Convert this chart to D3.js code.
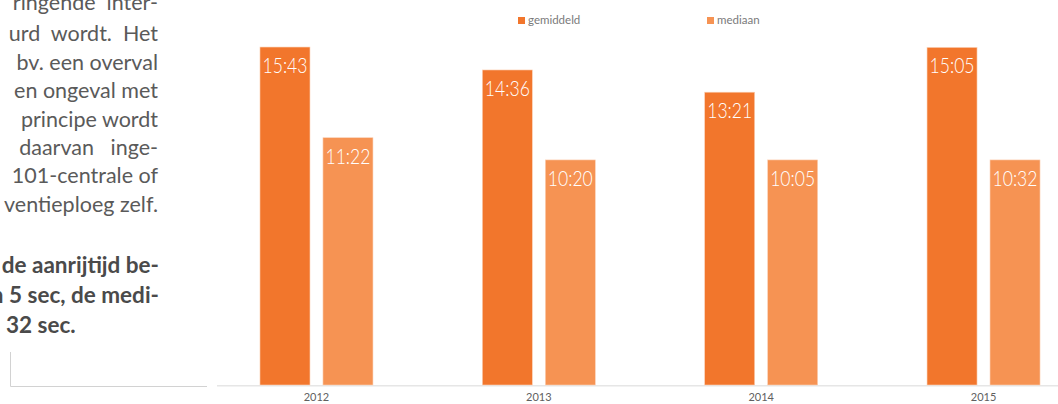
<!DOCTYPE html>
<html>
<head>
<meta charset="utf-8">
<script src="https://cdn.jsdelivr.net/npm/d3@7/dist/d3.min.js"></script>
<style>
  html, body { margin: 0; padding: 0; background: #ffffff; }
  svg { display: block; }
</style>
</head>
<body>
<svg id="chart" width="1058" height="404"></svg>
<script>
// ---- data ----
const years = ["2012", "2013", "2014", "2015"];
const seriesNames = ["gemiddeld", "mediaan"];
// bar heights in seconds
const gemiddeldSeconds = [943, 879, 817, 942];
const mediaanSeconds = [690, 628, 628, 628];
// labels printed on the bars
const gemiddeldLabels = ["15:43", "14:36", "13:21", "15:05"];
const mediaanLabels = ["11:22", "10:20", "10:05", "10:32"];
// side text of the document page
const bodyLines = ["ringende  inter-", "urd  wordt.  Het", "bv. een overval", "en ongeval met", "principe wordt", "daarvan   inge-", "101-centrale of", "ventieploeg zelf."];
const boldLines = ["de aanrijtijd be-", "n 5 sec, de medi-", "32 sec."];

const colors = { gemiddeld: "#f2762c", mediaan: "#f69353" };

const svg = d3.select("#chart");

// ---- side text ----
const bodyBaselines = [10, 41, 70, 98, 127, 155, 183, 212];
svg.append("g").selectAll("text").data(bodyLines).join("text")
  .attr("x", 158)
  .attr("y", (d, i) => bodyBaselines[i])
  .attr("text-anchor", "end")
  .attr("xml:space", "preserve")
  .style("white-space", "pre")
  .attr("font-family", "Lato, 'Open Sans', sans-serif")
  .attr("font-size", 21.5)
  .attr("fill", "#5a5a5a")
  .text(d => d);

const boldBaselines = [273, 303, 333];
svg.append("g").selectAll("text").data(boldLines).join("text")
  .attr("x", (d, i) => i === 2 ? 6 : 159)
  .attr("y", (d, i) => boldBaselines[i])
  .attr("text-anchor", (d, i) => i === 2 ? "start" : "end")
  .attr("font-family", "Lato, 'Open Sans', sans-serif")
  .attr("font-weight", "bold")
  .attr("font-size", 22.5)
  .attr("fill", "#4a4a4a")
  .text(d => d);

// left frame corner
svg.append("path")
  .attr("d", "M10.5,352 V386.5 H207")
  .attr("fill", "none")
  .attr("stroke", "#d2d2d2")
  .attr("stroke-width", 1);

// ---- chart ----
const baseY = 385;
const x0 = d3.scaleBand().domain(years).range([205.3, 1094.7]).padding(0);
const x1 = d3.scaleBand().domain(seriesNames).range([-56.5, 56.5]).paddingInner(0.206).paddingOuter(0);
const y = d3.scaleLinear().domain([0, 1000]).range([baseY, baseY - 358.4]);

const rows = years.map((yr, i) => ({
  year: yr,
  vals: [
    { s: "gemiddeld", v: gemiddeldSeconds[i], label: gemiddeldLabels[i] },
    { s: "mediaan", v: mediaanSeconds[i], label: mediaanLabels[i] }
  ]
}));

// axis baseline
svg.append("line")
  .attr("x1", 217).attr("x2", 1058)
  .attr("y1", baseY + 0.75).attr("y2", baseY + 0.75)
  .attr("stroke", "#e6e6e6").attr("stroke-width", 1.6);

const groups = svg.append("g").selectAll("g").data(rows).join("g")
  .attr("transform", d => `translate(${x0(d.year) + x0.bandwidth() / 2},0)`);

groups.selectAll("rect").data(d => d.vals).join("rect")
  .attr("x", d => x1(d.s))
  .attr("y", d => y(d.v))
  .attr("width", x1.bandwidth())
  .attr("height", d => baseY - y(d.v))
  .attr("fill", d => colors[d.s])
  .attr("stroke", "#fbd3b9")
  .attr("stroke-width", 0.6);

groups.selectAll("text.val").data(d => d.vals).join("text")
  .attr("class", "val")
  .attr("x", d => x1(d.s) + x1.bandwidth() / 2)
  .attr("y", d => y(d.v) + 26)
  .attr("text-anchor", "middle")
  .attr("font-family", "Lato, 'Open Sans', sans-serif")
  .attr("font-weight", 300)
  .attr("font-size", 21)
  .attr("fill", "#ffffff")
  .attr("textLength", 45)
  .attr("lengthAdjust", "spacingAndGlyphs")
  .text(d => d.label);

// x axis labels
const xAxis = d3.axisBottom(x0).tickSize(0).tickPadding(8);
const ax = svg.append("g").attr("transform", `translate(0,${baseY})`).call(xAxis);
ax.select(".domain").remove();
ax.selectAll("text")
  .attr("font-family", "Lato, 'Open Sans', sans-serif")
  .attr("font-size", 11)
  .attr("fill", "#606060");

// legend
const legendX = [518, 707];
const leg = svg.append("g").selectAll("g").data(seriesNames).join("g")
  .attr("transform", (d, i) => `translate(${legendX[i]},17)`);
leg.append("rect").attr("width", 7).attr("height", 7).attr("fill", d => colors[d]);
leg.append("text")
  .attr("x", 10).attr("y", 7)
  .attr("font-family", "Lato, 'Open Sans', sans-serif")
  .attr("font-size", 11.5)
  .attr("fill", "#7a7a7a")
  .text(d => d);
</script>
</body>
</html>
